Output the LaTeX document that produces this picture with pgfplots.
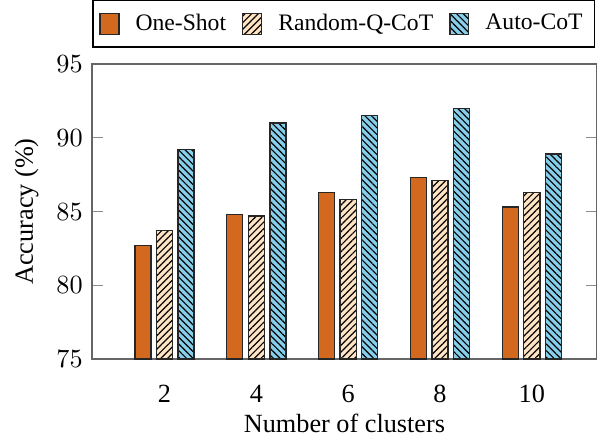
\documentclass[border=0pt]{standalone}
\usepackage{fontspec}
\setmainfont{Liberation Serif}
\usepackage{pgfplots}
\pgfplotsset{compat=1.18}
\usetikzlibrary{patterns.meta}
\definecolor{cOne}{RGB}{210,105,30}
\definecolor{cRand}{RGB}{255,228,196}
\definecolor{cAuto}{RGB}{135,206,235}
\begin{document}
\begin{tikzpicture}
\begin{axis}[
  name=ax,
  scale only axis, width=192.4pt, height=112.4pt,
  xmin=0.42, xmax=11.42, ymin=75, ymax=95,
  ytick={75,80,85,90,95},
  xtick={2,4,6,8,10}, xticklabels={2,4,6,8,10},
  x tick style={draw=none},
  y tick style={black!45, line width=0.5pt},
  major tick length=4.2pt,
  axis line style={black!60, line width=0.6pt},
  xticklabel style={yshift=-2.2pt},
  ylabel={Accuracy (\%)}, xlabel={Number of clusters},
  xlabel style={at={(axis description cs:0.5,0)}, anchor=north, yshift=-17.3pt},
  bar width=0.35,
  ybar,
  legend image code/.code={\draw[#1] (0pt,-4.1pt) rectangle (7.2pt,4.1pt);},
  legend style={at={(0,1)}, anchor=south west, yshift=6.1pt,
    legend columns=3, font=\small, draw=black, line width=0.6pt,
    inner xsep=2.5pt, inner ysep=3pt,
    /tikz/every odd column/.append style={column sep=4.1pt},
    /tikz/every even column/.append style={column sep=4.1pt}},
  legend cell align=left,
]
\addplot[draw=black!85, line width=0.5pt, fill=cOne, bar shift=-0.47]
  coordinates {(2,82.7) (4,84.8) (6,86.3) (8,87.3) (10,85.3)};
\addplot[draw=black!85, line width=0.5pt, fill=cRand, bar shift=0,
  postaction={pattern={Lines[angle=45,distance=1.8pt,line width=0.45pt]}}]
  coordinates {(2,83.7) (4,84.7) (6,85.8) (8,87.1) (10,86.3)};
\addplot[draw=black!85, line width=0.5pt, fill=cAuto, bar shift=0.47,
  postaction={pattern={Lines[angle=-45,distance=1.8pt,line width=0.45pt]}}]
  coordinates {(2,89.2) (4,91.0) (6,91.5) (8,92.0) (10,88.9)};
\legend{One-Shot,Random-Q-CoT,Auto-CoT}
\end{axis}
\pgfresetboundingbox
\path (ax.south west) ++(-35.05pt,-30.5pt) rectangle ([yshift=24.4pt]ax.north east);
\end{tikzpicture}
\end{document}
